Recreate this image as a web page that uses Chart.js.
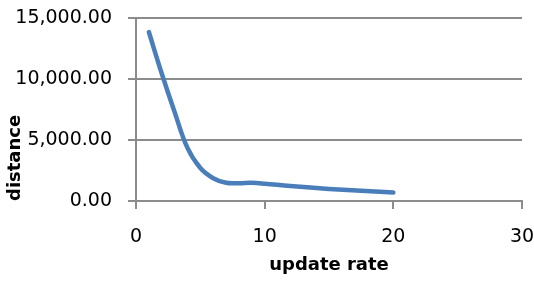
<!DOCTYPE html>
<html>
<head>
<meta charset="utf-8">
<script src="https://cdn.jsdelivr.net/npm/chart.js@4"></script>
<style>
  html, body { margin: 0; padding: 0; background: #fff; }
  #wrap { width: 534px; height: 284px; }
</style>
</head>
<body>
<div id="wrap"><canvas id="chart" width="534" height="284"></canvas></div>
<script>
"use strict";

const updateRate = [1, 2, 3, 4, 5, 6, 7, 8, 9, 10, 12, 15, 20];
const distance = [13850, 10450, 7300, 4350, 2700, 1870, 1490, 1460, 1490, 1420, 1220, 990, 690];
const xTicks = [0, 10, 20, 30];
const yTicks = [0, 5000, 10000, 15000];

const points = updateRate.map((x, i) => ({ x: x, y: distance[i] }));

const axisGrey = "#8c8c8c";

new Chart(document.getElementById("chart"), {
  type: "scatter",
  data: {
    datasets: [
      {
        label: "distance",
        data: points,
        showLine: true,
        borderColor: "#4a7ebb",
        borderWidth: 4.5,
        borderCapStyle: "round",
        borderJoinStyle: "round",
        tension: 0.4,
        pointRadius: 0,
        pointHoverRadius: 0,
      },
    ],
  },
  options: {
    responsive: false,
    animation: false,
    layout: { padding: { top: 18, right: 12, left: 0, bottom: 0 } },
    plugins: { legend: { display: false }, tooltip: { enabled: false } },
    scales: {
      x: {
        type: "linear",
        min: 0,
        max: 30,
        afterBuildTicks: (axis) => { axis.ticks = xTicks.map((v) => ({ value: v })); },
        afterFit: (axis) => {
          axis.height = 83;
          axis.paddingLeft = 0;
          axis.paddingRight = 0;
        },
        grid: { display: true, drawOnChartArea: false, drawTicks: true, color: axisGrey, lineWidth: 2, tickLength: 8 },
        border: { display: true, color: axisGrey, width: 2 },
        ticks: { color: "#000", padding: 17, font: { family: "DejaVu Sans", size: 19 } },
        title: {
          display: true,
          text: "update rate",
          color: "#000",
          padding: { top: 0, bottom: 8 },
          font: { family: "DejaVu Sans", size: 18, weight: "bold" },
        },
      },
      y: {
        type: "linear",
        min: 0,
        max: 15000,
        afterBuildTicks: (axis) => { axis.ticks = yTicks.map((v) => ({ value: v })); },
        afterFit: (axis) => {
          axis.width = 136;
          axis.paddingTop = 0;
          axis.paddingBottom = 0;
        },
        grid: { display: true, drawTicks: true, color: axisGrey, lineWidth: 2, tickLength: 8 },
        border: { display: true, color: axisGrey, width: 2 },
        ticks: {
          color: "#000",
          padding: 16,
          font: { family: "DejaVu Sans", size: 19 },
          callback: (v) => v.toLocaleString("en-US", { minimumFractionDigits: 2, maximumFractionDigits: 2 }),
        },
        title: {
          display: true,
          text: "distance",
          align: "start",
          color: "#000",
          padding: { top: 5, bottom: 0 },
          font: { family: "DejaVu Sans", size: 18, weight: "bold" },
        },
      },
    },
  },
});
</script>
</body>
</html>
